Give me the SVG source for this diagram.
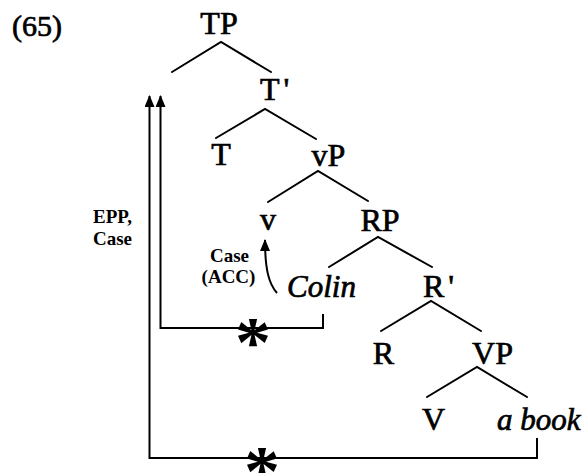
<svg xmlns="http://www.w3.org/2000/svg" width="587" height="473" viewBox="0 0 587 473">
<defs>
<style>
.lbl{font-family:'Liberation Serif','DejaVu Serif','Noto Serif',serif;font-size:32px;fill:#000;stroke:#000;stroke-width:0.7px}
.it{font-style:italic;font-size:31px}
.sm{font-family:'Liberation Serif','DejaVu Serif',serif;font-size:19px;font-weight:bold;fill:#000}
.star{font-family:'Liberation Serif','DejaVu Serif',serif;font-size:72px;font-weight:bold;fill:#000;text-anchor:middle}
.br{stroke:#000;stroke-width:2;fill:none;stroke-linecap:round}
.cn{stroke:#000;stroke-width:2;fill:none}
</style>
<marker id="ah" viewBox="0 0 12 10" refX="11" refY="5" markerWidth="12" markerHeight="10" markerUnits="userSpaceOnUse" orient="auto">
<path d="M0,0 L12,5 L0,10 Z" fill="#000"/>
</marker>
</defs>
<rect width="587" height="473" fill="#fff"/>
<text class="lbl" x="12" y="36" style="font-size:30px">(65)</text>
<g id="TP"><text class="lbl" x="219" y="34" text-anchor="middle">TP</text></g>
<g id="Tbar"><text class="lbl" x="260" y="100">T<tspan dx="4">'</tspan></text></g>
<g id="T"><text class="lbl" x="221" y="165" text-anchor="middle">T</text></g>
<g id="vP"><text class="lbl" x="328.5" y="166" text-anchor="middle">vP</text></g>
<g id="v"><text class="lbl" x="268" y="230" text-anchor="middle">v</text></g>
<g id="RP"><text class="lbl" x="380" y="231" text-anchor="middle">RP</text></g>
<g id="Colin"><text class="lbl it" x="287" y="297">Colin</text></g>
<g id="Rbar"><text class="lbl" x="423" y="297">R<tspan dx="4">'</tspan></text></g>
<g id="R"><text class="lbl" x="383.5" y="364" text-anchor="middle">R</text></g>
<g id="VP"><text class="lbl" x="492.5" y="364" text-anchor="middle">VP</text></g>
<g id="V"><text class="lbl" x="433.5" y="430" text-anchor="middle">V</text></g>
<g id="abook"><text class="lbl it" x="497" y="430">a book</text></g>
<g id="branches">
<path class="br" d="M172,72 L221,42 L271,72"/>
<path class="br" d="M216,138 L265,109 L316,139"/>
<path class="br" d="M268,202 L318,171 L368,201"/>
<path class="br" d="M329,267 L378,237 L432,267"/>
<path class="br" d="M381,331 L431,301 L481,331"/>
<path class="br" d="M427,397 L477,367 L527,397"/>
</g>
<g id="connectors">
<path class="cn" d="M323,314 V328 H160.5 V96" marker-end="url(#ah)"/>
<path class="cn" d="M537,438 V458 H149.5 V96" marker-end="url(#ah)"/>
<path class="cn" d="M277,293 C269,284 265,270 265,240" marker-end="url(#ah)"/>
<text class="star" x="253" y="366">*</text>
<text class="star" x="262" y="495">*</text>
<text class="sm" x="93" y="223">EPP,</text>
<text class="sm" x="93" y="245">Case</text>
<text class="sm" x="229.5" y="262" text-anchor="middle">Case</text>
<text class="sm" x="228.5" y="283" text-anchor="middle">(ACC)</text>
</g>
</svg>
